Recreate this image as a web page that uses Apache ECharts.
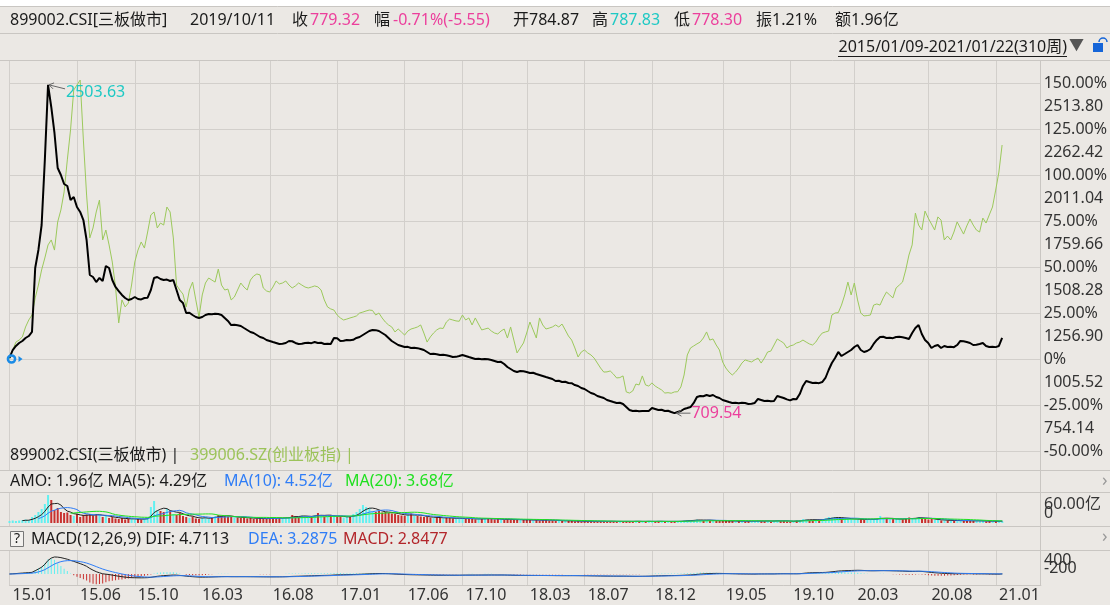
<!DOCTYPE html>
<html>
<head>
<meta charset="utf-8">
<script src="https://cdn.jsdelivr.net/npm/echarts@6/dist/echarts.min.js"></script>
<style>
  html, body {margin: 0; padding: 0; background: #ebe8e4;}
  #main {width: 1110px; height: 605px;}
</style>
</head>
<body>
<div id="main"></div>
<script>
// 周K叠加图: 899002.CSI(三板做市) + 399006.SZ(创业板指)
const slotCount = 322
const weekTicks = [0, 21, 39, 59, 81, 102, 123, 141, 161, 179, 200, 222, 243, 263, 286, 307]
const weekTickLabels = ['15.01', '15.06', '15.10', '16.03', '16.08', '17.01', '17.06', '17.10', '18.03', '18.07', '18.12', '19.05', '19.10', '20.03', '20.08', '21.01']
const pctTicks = [-50, -25, 0, 25, 50, 75, 100, 125, 150]
const basePrice = 1005.52

// 三板做市 周收盘
const csiClose = [
  1011.0, 1054.7, 1076.6, 1093.0, 1103.9, 1120.3, 1131.2, 1153.1, 1502.8, 1601.2,
  1737.8, 2093.0, 2503.63, 2382.7, 2240.6, 2049.3, 2011.1, 1961.9, 1950.9, 1874.4,
  1890.8, 1836.2, 1808.9, 1765.1, 1655.8, 1464.6, 1453.6, 1426.3, 1448.2, 1431.8,
  1513.7, 1502.8, 1437.2, 1399.0, 1377.1, 1355.3, 1338.9, 1327.9, 1333.4, 1344.3,
  1333.4, 1331.2, 1338.9, 1340.5, 1382.6, 1448.2, 1453.6, 1442.7, 1437.2, 1439.5,
  1431.8, 1437.2, 1382.6, 1327.9, 1311.5, 1256.9, 1258.4, 1246.0, 1235.0, 1229.6,
  1235.0, 1246.0, 1251.4, 1249.8, 1252.6, 1251.0, 1246.0, 1229.6, 1213.2, 1191.3,
  1192.5, 1190.1, 1185.9, 1174.9, 1164.0, 1153.1, 1147.6, 1136.7, 1125.7, 1120.3,
  1109.4, 1103.9, 1098.4, 1093.0, 1087.5, 1088.6, 1093.0, 1103.9, 1102.5, 1093.0,
  1087.5, 1088.9, 1093.0, 1094.2, 1092.1, 1098.4, 1093.0, 1094.5, 1087.5, 1088.3,
  1087.5, 1120.3, 1119.0, 1103.9, 1105.2, 1109.4, 1108.1, 1110.6, 1120.3, 1125.7,
  1136.7, 1147.6, 1158.5, 1164.0, 1163.2, 1158.5, 1147.6, 1136.7, 1120.3, 1103.9,
  1093.0, 1082.0, 1076.6, 1071.1, 1072.0, 1065.6, 1066.8, 1064.9, 1060.2, 1054.7,
  1043.8, 1032.8, 1033.9, 1031.5, 1027.4, 1028.3, 1026.2, 1021.9, 1016.4, 1017.2,
  1021.9, 1027.4, 1021.9, 1016.4, 1011.0, 1005.5, 1006.8, 1004.6, 1005.9, 1003.8,
  1000.1, 994.6, 989.1, 990.2, 978.2, 961.8, 950.9, 939.9, 934.5, 939.9,
  938.6, 934.5, 929.0, 930.1, 923.5, 918.1, 912.6, 907.1, 901.7, 896.2,
  885.3, 886.4, 879.8, 880.9, 874.4, 873.2, 863.4, 858.0, 847.0, 841.6,
  830.6, 819.7, 814.2, 803.3, 797.8, 792.4, 781.5, 776.0, 770.5, 765.1,
  766.2, 759.6, 743.2, 726.8, 721.3, 722.4, 720.5, 721.8, 720.9, 722.0,
  737.7, 732.3, 726.8, 727.9, 721.3, 722.6, 715.9, 709.54, 715.9, 721.3,
  732.3, 737.7, 743.2, 765.1, 797.8, 803.3, 802.1, 808.8, 803.3, 808.8,
  797.8, 792.4, 781.5, 776.0, 770.5, 765.1, 766.3, 764.2, 765.8, 764.6,
  759.6, 760.8, 765.1, 787.0, 781.5, 776.0, 777.2, 775.1, 776.4, 803.3,
  797.8, 792.4, 784.87, 779.32, 787.0, 786.1, 814.2, 858.0, 885.3, 879.8,
  874.4, 875.5, 873.6, 879.8, 901.7, 945.4, 983.7, 1011.0, 1043.8, 1021.9,
  1032.8, 1043.8, 1054.7, 1071.1, 1082.0, 1054.7, 1043.8, 1049.2, 1060.2, 1087.5,
  1109.4, 1125.7, 1126.8, 1120.3, 1121.5, 1119.4, 1125.7, 1126.9, 1124.8, 1120.3,
  1114.8, 1147.6, 1174.9, 1191.3, 1142.1, 1109.4, 1093.0, 1065.6, 1076.6, 1082.0,
  1065.6, 1076.6, 1071.1, 1072.3, 1070.2, 1082.0, 1103.9, 1102.7, 1098.4, 1093.0,
  1082.0, 1083.1, 1087.5, 1093.0, 1076.6, 1071.1, 1072.2, 1070.4, 1076.6, 1120.3,
]

// 创业板指 相对涨幅(%)
const cybPct = [
  0, 4.9, 9.2, 10.3, 12.0, 17.4, 21.2, 23.9, 33.2, 40.2,
  48.4, 54.9, 62.0, 64.7, 59.2, 74.5, 81.0, 90.8, 108.2, 124.5,
  146.2, 148.9, 151.6, 119.0, 89.1, 65.8, 71.2, 79.9, 86.4, 64.7,
  70.1, 62.0, 52.7, 39.1, 19.6, 32.1, 28.3, 30.4, 40.2, 52.7,
  59.2, 63.6, 60.3, 69.0, 78.3, 79.9, 71.2, 73.9, 72.8, 82.6,
  79.9, 65.8, 40.2, 37.5, 35.3, 28.3, 37.5, 41.8, 32.1, 22.8,
  34.8, 41.3, 44.0, 42.9, 41.8, 48.9, 40.2, 37.5, 38.0, 32.1,
  33.7, 37.5, 41.3, 39.1, 37.5, 42.9, 45.1, 46.2, 45.7, 38.6,
  37.0, 36.4, 39.1, 42.4, 40.8, 41.3, 42.4, 40.2, 38.6, 39.7,
  41.3, 40.2, 39.1, 38.6, 39.1, 39.7, 39.2, 37.5, 32.1, 28.3,
  27.2, 26.6, 23.9, 22.3, 21.2, 21.7, 22.3, 22.8, 23.4, 25.0,
  25.5, 26.1, 26.6, 26.4, 23.9, 25.0, 22.3, 20.1, 18.5, 17.4,
  14.7, 16.3, 14.7, 13.0, 15.2, 16.3, 16.8, 17.4, 18.5, 14.1,
  9.2, 12.0, 14.1, 15.8, 16.8, 16.6, 20.1, 21.7, 21.2, 20.7,
  20.5, 23.9, 21.2, 22.3, 18.5, 22.3, 19.0, 15.8, 16.3, 16.8,
  15.2, 14.1, 13.6, 15.2, 16.3, 11.4, 17.4, 10.3, 3.3, 6.0,
  8.7, 14.1, 20.1, 15.8, 11.4, 22.3, 18.5, 16.3, 16.8, 17.4,
  18.5, 17.4, 19.0, 15.8, 12.5, 10.3, 6.0, 1.1, 3.8, 4.9,
  3.3, 2.2, 0.5, -2.2, -4.9, -7.1, -7.0, -6.5, -8.2, -10.3,
  -10.1, -9.2, -17.9, -18.5, -17.4, -13.6, -14.1, -9.2, -14.1, -14.7,
  -13.0, -14.7, -15.8, -16.8, -18.5, -18.3, -18.6, -17.9, -17.8, -15.2,
  -8.7, 2.2, 6.0, 7.1, 8.2, 9.2, 11.4, 14.7, 10.3, 10.9,
  7.6, 4.9, -1.6, -4.9, -7.1, -8.7, -7.1, -4.9, -2.2, -0.5,
  -1.1, -1.6, -0.5, 0.5, -2.2, 0.5, 3.8, 4.3, 7.6, 10.9,
  9.8, 8.7, 6.0, 7.1, 7.6, 8.7, 9.2, 10.3, 9.2, 8.2,
  7.6, 9.2, 12.0, 14.1, 14.7, 15.2, 23.9, 25.0, 25.2, 29.3,
  34.8, 41.8, 34.8, 41.3, 32.1, 25.0, 23.4, 23.6, 23.9, 29.3,
  29.9, 29.3, 33.2, 36.4, 34.8, 33.2, 38.6, 40.2, 41.8, 48.4,
  56.5, 62.0, 79.3, 72.8, 70.1, 80.4, 76.6, 73.4, 70.1, 77.2,
  75.5, 64.7, 66.8, 64.7, 69.0, 74.5, 71.2, 67.9, 72.3, 76.1,
  72.8, 70.1, 69.0, 76.6, 73.9, 78.3, 82.6, 91.8, 101.6, 116.3,
]

// 成交额(亿)
const amo = [
  4, 5, 4, 5, 6, 7, 6, 12, 16, 22,
  28, 38, 56, 46, 26, 30, 22, 20, 21, 16,
  14, 18, 12, 16, 17, 18, 14, 18, 16, 12,
  14, 10, 12, 9, 8, 10, 7, 9, 8, 7,
  8, 7, 9, 12, 32, 44, 26, 24, 22, 28,
  24, 18, 16, 20, 14, 12, 10, 13, 9, 8,
  10, 12, 9, 11, 14, 16, 15, 14, 13, 12,
  11, 11, 10, 12, 9, 10, 8, 9, 10, 9,
  8, 9, 10, 9, 11, 10, 11, 12, 16, 14,
  12, 15, 13, 14, 12, 16, 20, 15, 13, 14,
  16, 14, 12, 13, 11, 12, 14, 18, 22, 28,
  36, 32, 30, 23, 22, 24, 21, 22, 20, 19,
  18, 16, 15, 14, 17, 19, 15, 14, 13, 12,
  12, 11, 10, 12, 10, 9, 11, 10, 9, 8,
  10, 9, 8, 9, 8, 7, 9, 8, 10, 9,
  8, 7, 8, 7, 6, 8, 7, 6, 7, 6,
  6, 7, 6, 5, 6, 5, 6, 7, 5, 5,
  4, 5, 4, 4, 5, 4, 3, 4, 3, 4,
  3, 4, 3, 3, 4, 3, 3, 4, 3, 3,
  3, 3, 4, 3, 3, 4, 3, 3, 3, 4,
  3, 3, 4, 3, 3, 3, 3, 4, 3, 4,
  5, 6, 6, 5, 7, 6, 5, 6, 5, 5,
  4, 4, 5, 4, 4, 4, 3, 4, 4, 3,
  4, 3, 4, 5, 4, 4, 4, 3, 5, 6,
  4, 4, 3, 1.96, 4, 5, 6, 8, 7, 6,
  6, 6, 7, 8, 10, 12, 11, 12, 10, 9,
  9, 8, 8, 7, 8, 7, 6, 8, 7, 8,
  9, 14, 9, 8, 7, 8, 9, 8, 7, 10,
  11, 9, 10, 12, 10, 9, 7, 8, 6, 6,
  5, 6, 5, 5, 4, 5, 5, 4, 5, 4,
  4, 5, 4, 4, 3, 4, 3, 4, 3, 3,
]

const FONT = '"Noto Sans", "Noto Sans CJK SC", sans-serif'
const DARK = '#1b1b1b', PINK = '#ec3f9c', CYAN = '#1fc9c4', BLUE = '#2f7df6', LIME = '#1fe01f'
const GRID_C = '#d2cfcb', BORDER = '#c9c6c2', UP_C = '#62f0f0', DOWN_C = '#c8302e'

/** 均线 */
function ma(src, n) {
  return src.map((_, i) => i < n - 1 ? '-' : src.slice(i - n + 1, i + 1).reduce((a, b) => a + b, 0) / n)
}
/** 指数均线 */
function ema(src, n) {
  const k = 2 / (n + 1)
  let e = src[0]
  return src.map((v, i) => (e = i ? e + k * (v - e) : v))
}
const ema12 = ema(csiClose, 12), ema26 = ema(csiClose, 26)
const dif = ema12.map((v, i) => v - ema26[i])
const dea = ema(dif, 9)
const macd = dif.map((v, i) => 2 * (v - dea[i]))
const upWeek = csiClose.map((v, i) => i === 0 || v >= csiClose[i - 1])

const slots = Array.from({length: slotCount}, (_, i) => i)
const isTick = (i) => weekTicks.includes(i)
const L = 9.5, W = 1031.4
const grids = [
  {left: L, width: W, top: 61, height: 409},
  {left: L, width: W, top: 83, height: 368},
  {left: L, width: W, top: 492, height: 34},
  {left: L, width: W, top: 493, height: 30},
  {left: L, width: W, top: 550, height: 35},
]

const chart = echarts.init(document.getElementById('main'))
chart.setOption({
  animation: false,
  backgroundColor: '#ebe8e4',
  grid: grids,
  xAxis: grids.map((g, k) => ({
    type: 'category', gridIndex: k, data: slots, boundaryGap: false,
    axisLine: {show: k === 4, onZero: false, lineStyle: {color: BORDER}},
    axisTick: {show: false},
    splitLine: {show: k === 0 || k === 2 || k === 4, interval: isTick, lineStyle: {color: GRID_C}},
    axisLabel: k === 4 ? {
      interval: isTick, align: 'left', margin: 2, padding: [0, 0, 0, 3],
      color: '#333', fontSize: 16, fontFamily: FONT,
      formatter: (v, idx) => weekTickLabels[weekTicks.indexOf(idx)] || '',
    } : {show: false},
  })),
  yAxis: [
    {gridIndex: 0, type: 'value', show: false},
    {gridIndex: 1, type: 'value', min: basePrice * 0.5, max: basePrice * 2.5, show: false},
    {
      gridIndex: 1, type: 'value', position: 'right', min: -50, max: 150, interval: 25,
      axisLine: {show: false}, axisTick: {show: false},
      splitLine: {show: true, lineStyle: {color: GRID_C, width: 1, opacity: 1}},
      axisLabel: {
        margin: 3, color: '#333', fontSize: 16, fontFamily: FONT,
        formatter: (v) => v === 0 ? '0%' : v.toFixed(2) + '%',
      },
    },
    {gridIndex: 2, type: 'value', show: false},
    {gridIndex: 3, type: 'value', min: 0, max: 60, show: false},
    {gridIndex: 4, type: 'value', min: -207, max: 451, show: false},
  ],
  series: [
    {type: 'line', xAxisIndex: 1, yAxisIndex: 1, data: csiClose, symbol: 'none', clip: false, z: 31,
      lineStyle: {color: '#000', width: 2}},
    {type: 'line', xAxisIndex: 1, yAxisIndex: 2, data: cybPct, symbol: 'none', clip: false, z: 30,
      lineStyle: {color: '#9cc95c', width: 1}},
    {type: 'bar', xAxisIndex: 3, yAxisIndex: 4, barWidth: 2,
      data: amo.map((v, i) => ({value: v, itemStyle: {color: upWeek[i] ? UP_C : DOWN_C}}))},
    {type: 'line', xAxisIndex: 3, yAxisIndex: 4, data: ma(amo, 5), symbol: 'none', lineStyle: {color: '#222', width: 1}},
    {type: 'line', xAxisIndex: 3, yAxisIndex: 4, data: ma(amo, 10), symbol: 'none', lineStyle: {color: BLUE, width: 1}},
    {type: 'line', xAxisIndex: 3, yAxisIndex: 4, data: ma(amo, 20), symbol: 'none', lineStyle: {color: LIME, width: 1}},
    {type: 'bar', xAxisIndex: 4, yAxisIndex: 5, barWidth: 1,
      data: macd.map((v) => ({value: v, itemStyle: {color: v >= 0 ? UP_C : DOWN_C}}))},
    {type: 'line', xAxisIndex: 4, yAxisIndex: 5, data: dif, symbol: 'none', lineStyle: {color: '#222', width: 1}},
    {type: 'line', xAxisIndex: 4, yAxisIndex: 5, data: dea, symbol: 'none', lineStyle: {color: BLUE, width: 1}},
  ],
})

// ---- 页面装饰: 表头, 分隔线, 标注 ----
const txt = (x, y, text, fill = DARK, extra = {}) => ({
  type: 'text', silent: true, x, y, z: 50,
  style: Object.assign({text, fill, font: `16px ${FONT}`, verticalAlign: 'middle', align: 'left'}, extra),
})
const hline = (y, x1 = 0, x2 = 1110, c = BORDER, z = 40) => ({
  type: 'line', silent: true, z, shape: {x1, y1: y, x2, y2: y}, style: {stroke: c, lineWidth: 1},
})

const peakIdx = csiClose.indexOf(Math.max(...csiClose))
const lowIdx = csiClose.indexOf(Math.min(...csiClose))
const [px, py] = chart.convertToPixel({seriesIndex: 0}, [peakIdx, csiClose[peakIdx]])
const [lx, ly] = chart.convertToPixel({seriesIndex: 0}, [lowIdx, csiClose[lowIdx]])
const [sx, sy] = chart.convertToPixel({seriesIndex: 0}, [0, basePrice])
// 主图横向网格线 + 价格刻度(与百分比刻度同位, 显示在其下方)
const tickY = pctTicks.map((p) => chart.convertToPixel({seriesIndex: 1}, [0, p])[1])
const gridLines = tickY.map((y) => hline(Math.round(y) + 0.5, L, 1040, GRID_C, 20))
const priceLabels = pctTicks.filter((p) => p > -50).map((p, k) =>
  txt(1044, tickY[k + 1] + 23, (basePrice * (1 + p / 100)).toFixed(2), '#333'))

const graphics = [
  ...gridLines,
  ...priceLabels,
  {type: 'rect', silent: true, z: 39, shape: {x: 0, y: 0, width: 1110, height: 6}, style: {fill: '#fff'}},
  hline(6.5), hline(33.5), hline(60.5), hline(470.5), hline(492.5), hline(526.5), hline(550.5),
  {type: 'line', silent: true, z: 40, shape: {x1: 1040.5, y1: 61, x2: 1040.5, y2: 586}, style: {stroke: BORDER, lineWidth: 1}},
  // 表头
  txt(10, 20, '899002.CSI[三板做市]'),
  txt(190, 20, '2019/10/11'),
  txt(292, 20, '收'), txt(310, 20, '779.32', PINK),
  txt(374, 20, '幅'), txt(393, 20, '-0.71%(-5.55)', PINK),
  txt(513, 20, '开784.87'),
  txt(592, 20, '高'), txt(610, 20, '787.83', CYAN),
  txt(674, 20, '低'), txt(692, 20, '778.30', PINK),
  txt(756, 20, '振1.21%'),
  txt(835, 20, '额1.96亿'),
  txt(1067, 47, '2015/01/09-2021/01/22(310周)', DARK, {align: 'right'}),
  hline(56.5, 838, 1067, DARK),
  txt(1069, 46, '▼', '#555', {font: `15px ${FONT}`}),
  {type: 'rect', silent: true, z: 50, shape: {x: 1093, y: 43, width: 10, height: 9}, style: {fill: '#1565d8'}},
  {type: 'arc', silent: true, z: 50, shape: {cx: 1103, cy: 42, r: 4, startAngle: Math.PI, endAngle: 2 * Math.PI}, style: {stroke: '#1565d8', lineWidth: 1.5, fill: 'none'}},
  // 图例行
  txt(10, 455, '899002.CSI(三板做市) |'),
  txt(190, 455, '399006.SZ(创业板指) |', '#9cc35a'),
  txt(10, 481, 'AMO: 1.96亿 MA(5): 4.29亿'),
  txt(224, 481, 'MA(10): 4.52亿', BLUE),
  txt(345, 481, 'MA(20): 3.68亿', LIME),
  txt(1102, 481, '›', '#999', {font: `18px ${FONT}`}),
  {type: 'rect', silent: true, z: 50, shape: {x: 10.5, y: 531.5, width: 13, height: 15}, style: {fill: '#f3f1ee', stroke: '#777', lineWidth: 1}},
  txt(17, 539, '?', DARK, {align: 'center', font: `14px ${FONT}`}),
  txt(31, 539, 'MACD(12,26,9) DIF: 4.7113'),
  txt(248, 539, 'DEA: 3.2875', BLUE),
  txt(343, 539, 'MACD: 2.8477', '#b3262b'),
  txt(1102, 537, '›', '#999', {font: `18px ${FONT}`}),
  // 副图坐标
  txt(1044, 504, '60.00亿', '#333'),
  txt(1044, 513, '0', '#333'),
  txt(1044, 560, '400', '#333'),
  txt(1044, 568, '-200', '#333'),
  // 最高/最低标注
  {type: 'polyline', silent: true, z: 45, shape: {points: [[px + 6, py - 2], [px + 1, py], [px + 5, py + 4]]}, style: {stroke: '#666', lineWidth: 1, fill: 'none'}},
  {type: 'line', silent: true, z: 45, shape: {x1: px + 1, y1: py, x2: px + 17, y2: py + 4}, style: {stroke: '#666', lineWidth: 1}},
  txt(px + 18, py + 8, csiClose[peakIdx].toFixed(2), CYAN),
  {type: 'polyline', silent: true, z: 45, shape: {points: [[lx + 7, ly - 3], [lx + 2, ly], [lx + 7, ly + 3]]}, style: {stroke: '#666', lineWidth: 1, fill: 'none'}},
  {type: 'line', silent: true, z: 45, shape: {x1: lx + 2, y1: ly, x2: lx + 16, y2: ly}, style: {stroke: '#666', lineWidth: 1}},
  txt(lx + 17, ly, csiClose[lowIdx].toFixed(2), PINK),
  // 起点标记
  {type: 'circle', silent: true, z: 46, shape: {cx: sx + 2, cy: sy, r: 3.6}, style: {stroke: '#1a8be6', lineWidth: 2.5, fill: 'none'}},
  {type: 'polygon', silent: true, z: 46, shape: {points: [[sx + 9, sy - 3], [sx + 13, sy], [sx + 9, sy + 3]]}, style: {fill: '#1a8be6'}},
]
chart.setOption({graphic: graphics})
</script>
</body>
</html>
